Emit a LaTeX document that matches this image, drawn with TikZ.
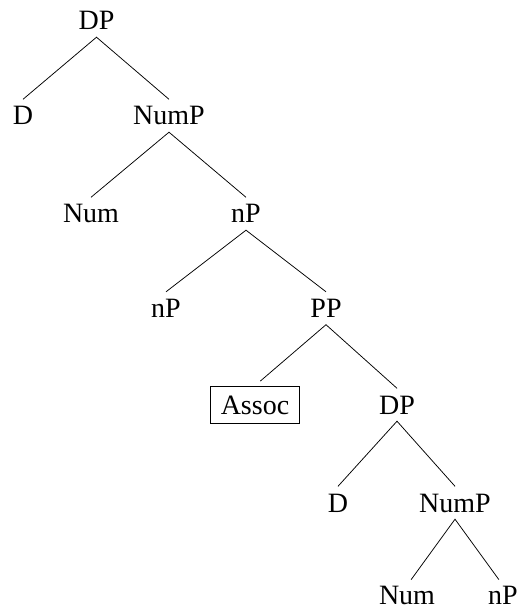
\documentclass[tikz,border=0pt]{standalone}
\usepackage{fontspec}
\setmainfont{Liberation Serif}
\begin{document}
\begin{tikzpicture}[x=1pt,y=-1pt,
  lbl/.style={anchor=base,inner xsep=0pt,inner ysep=7pt,text height=18.5pt,text depth=0pt,font=\fontsize{28}{33}\selectfont},
  leaf/.style={lbl,inner ysep=0pt},
  boxed/.style={lbl,draw,line width=0.7pt,inner xsep=10pt,inner ysep=9.5pt},
  branch/.style={line width=0.75pt}]
\useasboundingbox (0,0) rectangle (518,609);
\node[lbl] (dp0) at (96.5,30) {DP};
\node[lbl] (d1) at (23,125) {D};
\node[lbl] (nump1) at (169,125) {NumP};
\node[lbl] (num2) at (91,223) {Num};
\node[lbl] (np2) at (246,223) {nP};
\node[lbl] (np3) at (166,317.5) {nP};
\node[lbl] (pp3) at (326,317.5) {PP};
\node[boxed] (assoc4) at (255,414) {Assoc};
\node[lbl] (dp4) at (397,414) {DP};
\node[lbl] (d5) at (338,512) {D};
\node[lbl] (nump5) at (455,512) {NumP};
\node[leaf] (num6) at (407,604) {Num};
\node[leaf] (np6) at (503,604) {nP};
\draw[branch] (d1.north) -- (dp0.south) -- (nump1.north);
\draw[branch] (num2.north) -- (nump1.south) -- (np2.north);
\draw[branch] (np3.north) -- (np2.south) -- (pp3.north);
\draw[branch,shorten <=7pt] (assoc4.north) -- (pp3.south) -- (dp4.north);
\draw[branch] (d5.north) -- (dp4.south) -- (nump5.north);
\draw[branch,shorten <=7pt,shorten >=7pt] (num6.north) -- (nump5.south) -- (np6.north);
\end{tikzpicture}
\end{document}
